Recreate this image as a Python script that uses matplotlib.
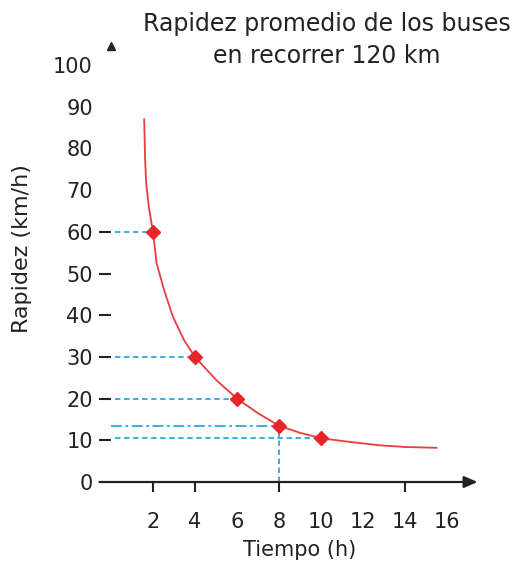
import matplotlib
matplotlib.use("Agg")
import matplotlib.pyplot as plt

plt.rcParams['font.family'] = ['DejaVu Sans']

# Data
curve_t = [1.58, 1.62, 1.67, 1.8, 2.0, 2.17, 2.53, 2.95, 3.48, 4.0, 5.0, 6.0, 7.0, 8.0, 9.0, 10.0, 11.4, 12.8, 14.0, 15.5]
curve_v = [87, 78, 72, 66, 60, 52.5, 46, 39.6, 34, 30, 24.5, 20, 16.5, 13.5, 11.8, 10.5, 9.6, 8.8, 8.4, 8.2]
point_t = [2, 4, 6, 8, 10]
point_v = [60, 30, 20, 13.5, 10.5]
x_ticks = [2, 4, 6, 8, 10, 12, 14, 16]
x_tick_marks = [2, 4, 8, 14]
y_ticks = [0, 10, 20, 30, 40, 50, 60, 70, 80, 90, 100]
y_tick_marks = [10, 20, 30, 40, 50, 60]
title = "Rapidez promedio de los buses\nen recorrer 120 km"
xlabel = "Tiempo (h)"
ylabel = "Rapidez (km/h)"

RED = "#e8262a"
BLUE = "#2aa7e1"
INK = "#222222"

fig = plt.figure(figsize=(5.21, 5.68), dpi=100)
ax = fig.add_axes([0.1889, 0.1514, 0.7296, 0.778])
ax.set_xlim(-0.6, 17.5)
ax.set_ylim(0, 106)

for s in ['top', 'right']:
    ax.spines[s].set_visible(False)
ax.spines['left'].set_position(('data', 0))
ax.spines['left'].set_color('none')
ax.spines['bottom'].set_color('none')

# guide lines
for t, v in zip(point_t, point_v):
    if t == 8:
        ax.plot([0, t], [v, v], color=BLUE, lw=1.3, dashes=(6, 2, 1.5, 2))
        ax.plot([t, t], [0, v], color=BLUE, lw=1.3, dashes=(3, 2))
    else:
        ax.plot([0.2, t], [v, v], color=BLUE, lw=1.3, dashes=(3, 2))

ax.plot(curve_t, curve_v, color=RED, lw=1.3, alpha=0.9)
ax.plot(point_t, point_v, linestyle='none', marker='D', ms=7.5, color=RED, mec=RED)

# x axis with arrow
ax.annotate('', xy=(17.45, 0), xytext=(-0.55, 0),
            arrowprops=dict(arrowstyle='-|>,head_length=0.8,head_width=0.35', color=INK, lw=1.6,
                            shrinkA=0, shrinkB=0), annotation_clip=False)
# y axis arrow head
ax.plot([0], [104.6], marker='^', ms=6, color=INK, clip_on=False)

ax.set_xticks(x_ticks)
ax.set_yticks(y_ticks)
ax.tick_params(axis='x', direction='out', length=7, width=1.5, pad=14.5, labelsize=15, colors=INK)
ax.tick_params(axis='y', direction='out', length=8.6, width=1.5, pad=4.5, labelsize=15, colors=INK)
for t, tick in zip(x_ticks, ax.xaxis.get_major_ticks()):
    tick.tick1line.set_visible(t in x_tick_marks)
for t, tick in zip(y_ticks, ax.yaxis.get_major_ticks()):
    tick.tick1line.set_visible(t in y_tick_marks)

fig.text(327/521, 1 - 40/568, title, ha='center', va='center', fontsize=17, color=INK, linespacing=1.42)
fig.text(300/521, 1 - 550/568, xlabel, ha='center', va='center', fontsize=15, color=INK)
fig.text(22/521, 1 - 249/568, ylabel, ha='center', va='center', rotation=90, fontsize=16, color=INK)

fig.savefig("out.png", dpi=100)
